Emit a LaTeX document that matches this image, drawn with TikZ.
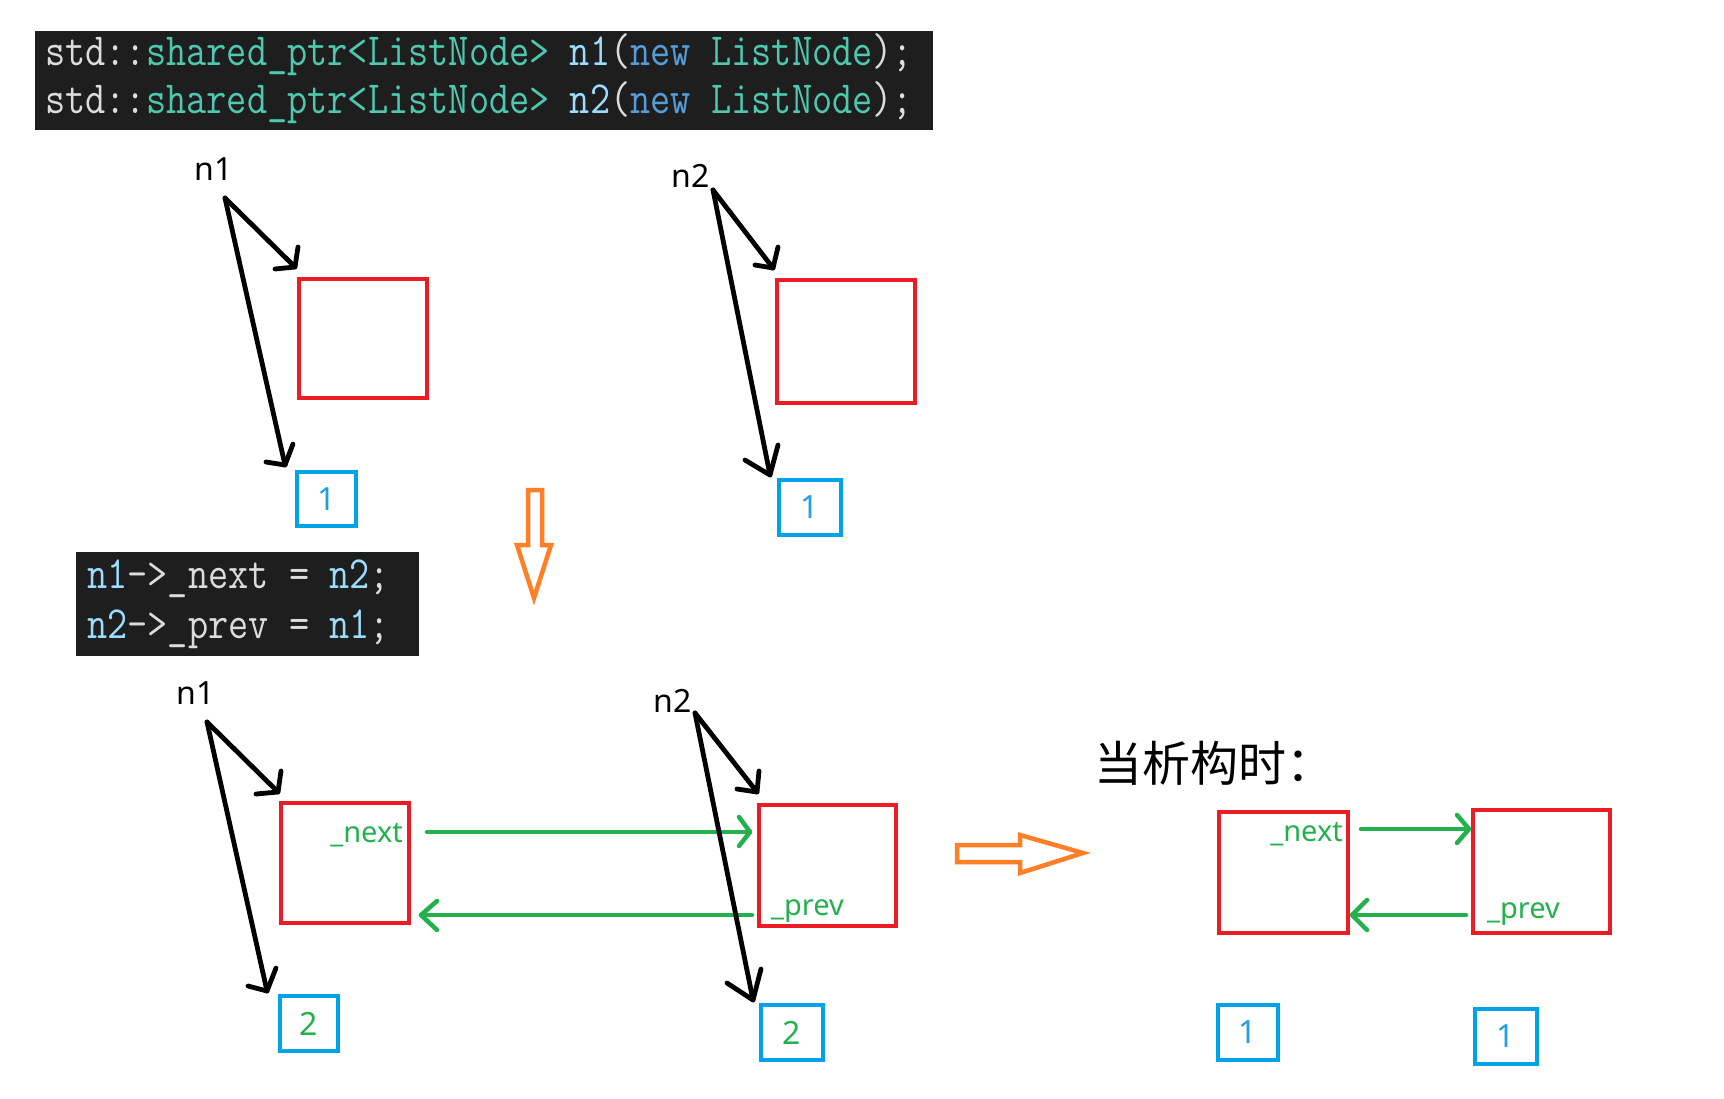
\documentclass[tikz,border=0pt]{standalone}
\usepackage{fontspec}
\usepackage{graphicx}
\newfontfamily\labfont{Noto Sans}
\newfontfamily\cjk{Noto Sans CJK SC}
\definecolor{pred}{HTML}{ED1C24}
\definecolor{pblue}{HTML}{00A2E8}
\definecolor{pgreen}{HTML}{22B14C}
\definecolor{porange}{HTML}{FF7F27}
\definecolor{codebg}{HTML}{1E1E1E}
\definecolor{cgray}{HTML}{DCDCDC}
\definecolor{cteal}{HTML}{4EC9B0}
\definecolor{cvar}{HTML}{9CDCFE}
\definecolor{ckey}{HTML}{569CD6}
\definecolor{numblue}{HTML}{1FA0E4}
\newcommand{\codeln}[1]{\scalebox{0.852}[1]{#1}}
\tikzset{
  codeline/.style={anchor=base west, inner sep=0pt, font=\ttfamily\fontsize{46}{46}\selectfont},
  codebox/.style={fill=codebg, draw=none},
  redbox/.style={draw=pred, line width=4.5pt, inner sep=0pt},
  bluebox/.style={draw=pblue, line width=4.5pt, inner sep=0pt, text=numblue, font=\labfont\fontsize{32}{32}\selectfont},
  greenbox/.style={bluebox, text=pgreen},
  ptrlab/.style={inner sep=0pt, font=\labfont\fontsize{32}{32}\selectfont},
  fieldlab/.style={inner sep=0pt, text=pgreen, font=\labfont\fontsize{29}{29}\selectfont},
  blk/.style={draw=black, line width=4.8pt, line cap=round, line join=round},
  grn/.style={draw=pgreen, line width=4.5pt, line cap=round, line join=round},
  org/.style={draw=porange, line width=4.5pt, line join=miter},
}
\begin{document}
\begin{tikzpicture}[x=1pt,y=-1pt]
\useasboundingbox (0,0) rectangle (1724,1098);
\fill[white] (0,0) rectangle (1724,1098);

% ---- code boxes
\fill[codebox] (35,31) rectangle (933,130);
\node[codeline] (c1) at (45,65) {\codeln{\textcolor{cgray}{std::}\textcolor{cteal}{shared\_ptr<ListNode>} \textcolor{cvar}{n1}\textcolor{cgray}{(}\textcolor{ckey}{new} \textcolor{cteal}{ListNode}\textcolor{cgray}{);}}};
\node[codeline] (c2) at (45,113) {\codeln{\textcolor{cgray}{std::}\textcolor{cteal}{shared\_ptr<ListNode>} \textcolor{cvar}{n2}\textcolor{cgray}{(}\textcolor{ckey}{new} \textcolor{cteal}{ListNode}\textcolor{cgray}{);}}};

\fill[codebox] (76,552) rectangle (419,656);
\node[codeline] (c3) at (87,588) {\codeln{\textcolor{cvar}{n1}\textcolor{cgray}{->\_next = }\textcolor{cvar}{n2}\textcolor{cgray}{;}}};
\node[codeline] (c4) at (87,638) {\codeln{\textcolor{cvar}{n2}\textcolor{cgray}{->\_prev = }\textcolor{cvar}{n1}\textcolor{cgray}{;}}};

% ---- top-left group
\node[ptrlab] (tln1) at (214,169) {n1};
\node[redbox, minimum width=128pt, minimum height=119pt] (tlr) at (363,338.5) {};
\node[bluebox, minimum width=59pt, minimum height=54pt] (tlb) at (326.5,499) {1};
\coordinate (tlo) at (225,198);
\coordinate (tlt1) at (295,267);
\coordinate (tlt2) at (285,465);
\draw[blk] (tlo) -- (tlt1);
\draw[blk] (298,247) -- (tlt1) -- (275,269);
\draw[blk] (tlo) -- (tlt2);
\draw[blk] (293,444) -- (tlt2) -- (266,462);

% ---- top-right group
\node[ptrlab] (trn2) at (691,176) {n2};
\node[redbox, minimum width=138pt, minimum height=123pt] (trr) at (846,341.5) {};
\node[bluebox, minimum width=62pt, minimum height=55pt] (trb) at (810,507.5) {1};
\coordinate (tro) at (713,190);
\coordinate (trt1) at (773,268);
\coordinate (trt2) at (770,475);
\draw[blk] (tro) -- (trt1);
\draw[blk] (778,247) -- (trt1) -- (755,265);
\draw[blk] (tro) -- (trt2);
\draw[blk] (778,445) -- (trt2) -- (745,460);

% ---- orange down arrow
\draw[org] (528,490) -- (542,490) -- (542,545) -- (551,545) -- (534,598) -- (517,545) -- (528,545) -- cycle;

% ---- bottom-left group
\node[ptrlab] (bln1) at (196,693) {n1};
\node[redbox, minimum width=128pt, minimum height=120pt] (blr) at (345,863) {};
\node[fieldlab, anchor=east] (bnext) at (403,835) {\_next};
\node[greenbox, minimum width=58pt, minimum height=55pt] (blb) at (309,1023.5) {2};
\coordinate (blo) at (207,722);
\coordinate (blt1) at (278,792);
\coordinate (blt2) at (267,991);
\draw[blk] (blo) -- (blt1);
\draw[blk] (281,771) -- (blt1) -- (256,794);
\draw[blk] (blo) -- (blt2);
\draw[blk] (276,968) -- (blt2) -- (248,986);

% ---- bottom-middle group
\node[ptrlab] (bmn2) at (673,701) {n2};
\node[redbox, minimum width=137pt, minimum height=121pt] (bmr) at (827.5,865.5) {};
\node[fieldlab, anchor=west] (bprev) at (771,911) {\_prev};
\node[greenbox, minimum width=62pt, minimum height=55pt] (bmb) at (792,1032.5) {2};

% green arrows
\coordinate (gn1) at (427,832);
\coordinate (gn2) at (750,832);
\draw[grn] (gn1) -- (gn2);
\draw[grn] (739,817) -- (gn2) -- (739,846);
\coordinate (gp1) at (752,915);
\coordinate (gp2) at (421,915);
\draw[grn] (gp1) -- (gp2);
\draw[grn] (437,901) -- (gp2) -- (437,930);

\coordinate (bmo) at (695,713);
\coordinate (bmt1) at (757,792);
\coordinate (bmt2) at (753,1000);
\draw[blk] (bmo) -- (bmt1);
\draw[blk] (759,771) -- (bmt1) -- (737,789);
\draw[blk] (bmo) -- (bmt2);
\draw[blk] (761,969) -- (bmt2) -- (727,983);

% ---- orange right arrow
\draw[org] (957,845) -- (1020,845) -- (1020,835) -- (1083,853) -- (1020,873) -- (1020,862) -- (957,862) -- cycle;

% ---- right group
\node[inner sep=0pt, anchor=west, font=\cjk\fontsize{48}{48}\selectfont] (title) at (1094,763) {当析构时：};
\node[redbox, minimum width=129pt, minimum height=121pt] (rlr) at (1283.5,872.5) {};
\node[redbox, minimum width=137pt, minimum height=123pt] (rrr) at (1541.5,871.5) {};
\node[fieldlab, anchor=east] (rnext) at (1343,834) {\_next};
\node[fieldlab, anchor=west] (rprev) at (1487,914) {\_prev};
\node[bluebox, minimum width=60pt, minimum height=55pt] (rlb) at (1248,1032.5) {1};
\node[bluebox, minimum width=62pt, minimum height=55pt] (rrb) at (1506,1036.5) {1};
\coordinate (rg1) at (1361,829);
\coordinate (rg2) at (1469,829);
\draw[grn] (rg1) -- (rg2);
\draw[grn] (1457,815) -- (rg2) -- (1457,843);
\coordinate (rg3) at (1466,915);
\coordinate (rg4) at (1352,915);
\draw[grn] (rg3) -- (rg4);
\draw[grn] (1367,900) -- (rg4) -- (1367,930);
\end{tikzpicture}
\end{document}
